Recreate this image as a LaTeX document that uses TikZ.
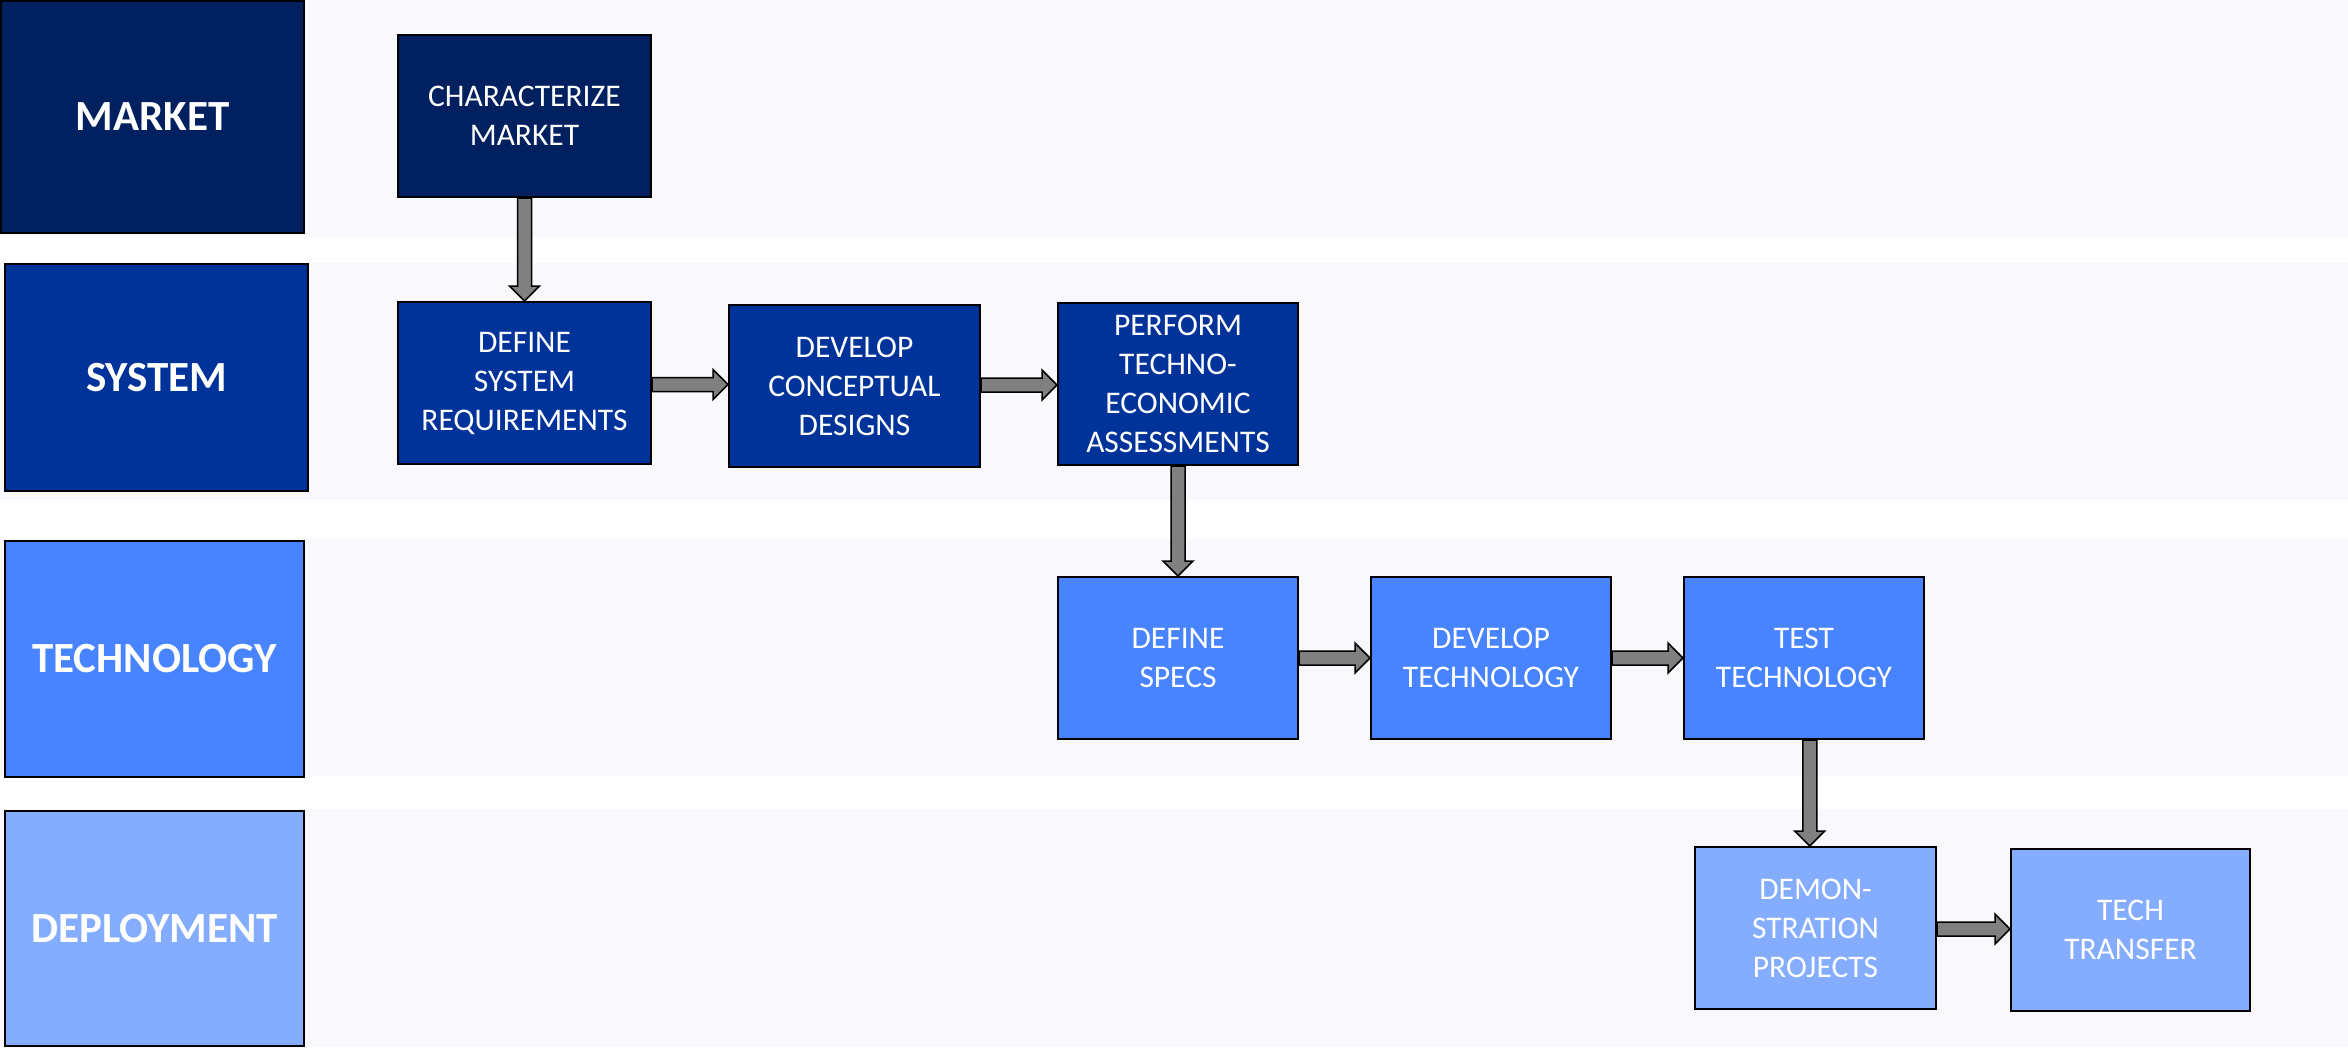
\documentclass[tikz,border=0pt]{standalone}
\usepackage{fontspec}
\setmainfont{Carlito}
\usetikzlibrary{calc}
\definecolor{cMarket}{HTML}{002060}
\definecolor{cSystem}{HTML}{003399}
\definecolor{cTech}{HTML}{4884FF}
\definecolor{cDeploy}{HTML}{84ACFF}
\definecolor{cBand}{HTML}{F9F8FC}
\definecolor{cArrow}{HTML}{808080}
\newcommand\hblk[2]{%
  \draw[blk] let \p1=(#1.east), \p2=(#2.west), \p3=($(#1.east)!0.5!(#2.west)$) in
    (\x1,\y3+7pt) -- (\x2-15pt,\y3+7pt) -- (\x2-15pt,\y3+15pt) -- (\x2,\y3)
    -- (\x2-15pt,\y3-15pt) -- (\x2-15pt,\y3-7pt) -- (\x1,\y3-7pt) -- cycle;}
\newcommand\vblk[2]{%
  \draw[blk] let \p1=(#1.south), \p2=(#2.north), \p3=($(#1.south)!0.5!(#2.north)$) in
    (\x3-7pt,\y1) -- (\x3-7pt,\y2+15pt) -- (\x3-15pt,\y2+15pt) -- (\x3,\y2)
    -- (\x3+15pt,\y2+15pt) -- (\x3+7pt,\y2+15pt) -- (\x3+7pt,\y1) -- cycle;}
\begin{document}
\begin{tikzpicture}[x=1pt,y=-1pt,
  band/.style={fill=cBand, draw=none},
  lane/.style={draw=black, line width=2pt, anchor=north west, text=white,
    font=\fontsize{43}{50}\selectfont\bfseries, inner sep=0pt},
  proc/.style={draw=black, line width=2pt, anchor=north west, text=white,
    font=\fontsize{31.5}{39}\selectfont, align=center, inner sep=0pt,
    minimum height=162},
  blk/.style={fill=cArrow, draw=black, line width=1.5pt, line join=miter}
]
\useasboundingbox (0,0) rectangle (2348,1049);
\fill[white] (0,0) rectangle (2348,1049);
% bands
\fill[band] (0,0) rectangle (2348,237);
\fill[band] (0,263) rectangle (2348,500);
\fill[band] (0,539) rectangle (2348,776);
\fill[band] (0,809) rectangle (2348,1047);
% lane labels
\node[lane, fill=cMarket, minimum width=303, minimum height=232] (lmarket) at (0,0) {MARKET};
\node[lane, fill=cSystem, minimum width=303, minimum height=227] (lsystem) at (4,263) {SYSTEM};
\node[lane, fill=cTech, minimum width=299, minimum height=236] (ltech) at (4,540) {TECHNOLOGY};
\node[lane, fill=cDeploy, minimum width=299, minimum height=235] (ldeploy) at (4,810) {DEPLOYMENT};
% process boxes
\node[proc, fill=cMarket, minimum width=253] (char) at (397,34) {CHARACTERIZE\\MARKET};
\node[proc, fill=cSystem, minimum width=253] (defsys) at (397,301) {DEFINE\\SYSTEM\\REQUIREMENTS};
\node[proc, fill=cSystem, minimum width=251] (devcon) at (728,304) {DEVELOP\\CONCEPTUAL\\DESIGNS};
\node[proc, fill=cSystem, minimum width=240] (perf) at (1057,302) {PERFORM\\TECHNO-\\ECONOMIC\\ASSESSMENTS};
\node[proc, fill=cTech, minimum width=240] (specs) at (1057,576) {DEFINE\\SPECS};
\node[proc, fill=cTech, minimum width=240] (devtech) at (1370,576) {DEVELOP\\TECHNOLOGY};
\node[proc, fill=cTech, minimum width=240] (testtech) at (1683,576) {TEST\\TECHNOLOGY};
\node[proc, fill=cDeploy, minimum width=241] (demo) at (1694,846) {DEMON-\\STRATION\\PROJECTS};
\node[proc, fill=cDeploy, minimum width=239] (transfer) at (2010,848) {TECH\\TRANSFER};
% arrows
\vblk{char}{defsys}
\hblk{defsys}{devcon}
\hblk{devcon}{perf}
\vblk{perf}{specs}
\hblk{specs}{devtech}
\hblk{devtech}{testtech}
\vblk{testtech}{demo}
\hblk{demo}{transfer}
\end{tikzpicture}
\end{document}
